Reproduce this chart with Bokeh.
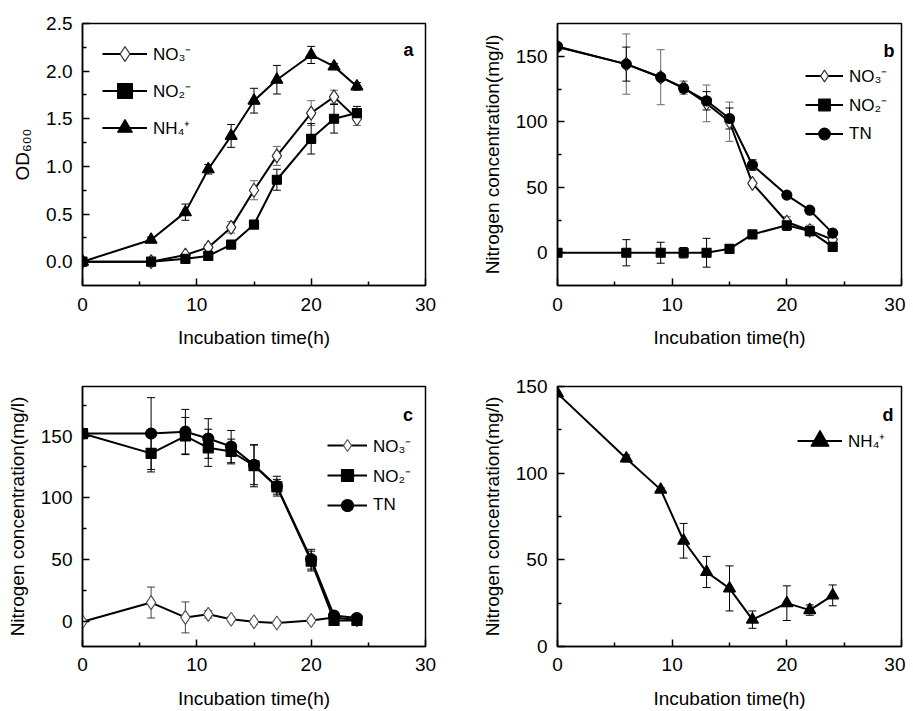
from bokeh.plotting import figure
from bokeh.layouts import column, row
from bokeh.models import (ColumnDataSource, Whisker, TeeHead, Legend, LegendItem,
                          FixedTicker, PrintfTickFormatter, Range1d, Label)
from bokeh.embed import file_html
from bokeh.resources import INLINE

# ---------------- data ----------------
t = [0, 6, 9, 11, 13, 15, 17, 20, 22, 24]

# panel a: OD600
od_no3 = [0.0, 0.0, 0.07, 0.15, 0.36, 0.75, 1.11, 1.56, 1.73, 1.50]
od_no3_err = [0, 0, 0.02, 0.03, 0.06, 0.10, 0.10, 0.13, 0.07, 0.07]
od_no2 = [0.0, 0.0, 0.03, 0.06, 0.18, 0.39, 0.86, 1.29, 1.50, 1.56]
od_no2_err = [0, 0, 0, 0, 0, 0, 0.11, 0.16, 0.15, 0.07]
od_nh4 = [0.0, 0.23, 0.52, 0.97, 1.32, 1.69, 1.91, 2.17, 2.05, 1.84]
od_nh4_err = [0, 0.03, 0.085, 0.05, 0.12, 0.13, 0.15, 0.09, 0.03, 0.04]

# panel b: nitrate medium
b_no3 = [157, 144, 134, 126, 114, 100, 53, 23.5, 17, 10]
b_no3_err = [0, 23, 21, 5, 14, 15, 0, 4, 4, 0]
b_no2 = [0, 0, 0, 0, 0, 3, 14, 21, 16.5, 4.5]
b_no2_err = [0, 10, 8, 4, 11, 0, 0, 4, 3, 0]
b_tn = [157.5, 144, 134, 125.5, 116, 102.5, 67, 44, 32.5, 15]
b_tn_err = [0, 13, 0, 3, 7, 8, 4, 0, 0, 0]

# panel c: nitrite medium
c_no3 = [0, 15.5, 3.5, 6, 2, 0, -1, 1, 3.5, 1.5]
c_no3_err = [0, 12.5, 12.5, 3, 2, 2, 2, 2, 0, 0]
c_no2 = [152, 136, 150, 140.5, 137.5, 126, 109, 49, 1, 1]
c_no2_err = [0, 15, 15, 15, 10, 17, 6, 8, 0, 0]
c_tn = [152, 152, 153.5, 148, 141.5, 126.7, 109.5, 50.5, 5, 3]
c_tn_err = [0, 29, 18, 16, 13, 16, 8, 8, 0, 0]

# panel d: ammonium medium
d_nh4 = [146, 108.5, 90.5, 61, 43, 33.5, 15.5, 25, 21, 29.5]
d_nh4_err = [0, 2, 1, 10, 9, 13, 5, 10, 3, 6]

x_ticks = [0, 10, 20, 30]
x_minor = [5, 15, 25]

FONT = "Liberation Sans"
FS = "19px"
GRAY = "#6a6a6a"


def make_fig(w, h, bl, br, bt, bb, yr, yticks, yminor, ylabel, xstand, xlabstand):
    p = figure(width=w, height=h, output_backend="svg", toolbar_location=None,
               x_range=Range1d(0, 30), y_range=Range1d(*yr),
               min_border_left=bl, min_border_right=br, min_border_top=bt, min_border_bottom=bb)
    p.grid.visible = False
    p.outline_line_color = "black"
    p.outline_line_width = 1.5
    p.background_fill_color = "white"
    p.border_fill_color = "white"
    p.xaxis.ticker = FixedTicker(ticks=x_ticks, minor_ticks=x_minor)
    p.yaxis.ticker = FixedTicker(ticks=yticks, minor_ticks=yminor)
    p.xaxis.axis_label = "Incubation time(h)"
    p.yaxis.axis_label = ylabel
    for ax in (p.xaxis[0], p.yaxis[0]):
        ax.axis_line_width = 1.5
        ax.axis_line_color = "black"
        ax.major_tick_in = 7
        ax.major_tick_out = 0
        ax.minor_tick_in = 4
        ax.minor_tick_out = 0
        ax.major_tick_line_width = 1.5
        ax.minor_tick_line_width = 1.5
        ax.major_label_text_font = FONT
        ax.major_label_text_font_size = FS
        ax.major_label_text_color = "black"
        ax.axis_label_text_font = FONT
        ax.axis_label_text_font_size = FS
        ax.axis_label_text_font_style = "normal"
        ax.axis_label_text_color = "black"
    p.xaxis.major_label_standoff = xstand
    p.xaxis.axis_label_standoff = xlabstand
    p.yaxis.major_label_standoff = 10
    p.yaxis.axis_label_standoff = 10
    return p


def add_err(p, x, y, e, color):
    xs = [xi for xi, ei in zip(x, e) if ei > 0]
    lo = [yi - ei for yi, ei in zip(y, e) if ei > 0]
    hi = [yi + ei for yi, ei in zip(y, e) if ei > 0]
    src = ColumnDataSource(dict(base=xs, lower=lo, upper=hi))
    wk = Whisker(source=src, base="base", lower="lower", upper="upper",
                 line_color=color, line_width=1,
                 upper_head=TeeHead(size=8, line_color=color, line_width=1),
                 lower_head=TeeHead(size=8, line_color=color, line_width=1))
    p.add_layout(wk)


def series(p, x, y, marker, size, fill, lc):
    ln = p.line(x, y, line_color="black", line_width=2)
    sc = p.scatter(x, y, marker=marker, size=size, fill_color=fill, line_color=lc, line_width=1.2)
    return [ln, sc]


def add_legend(p, entries, loc, gw, gh):
    items = [LegendItem(label=lab, renderers=r) for lab, r in entries]
    lg = Legend(items=items, location=loc, glyph_width=gw, glyph_height=gh, label_height=gh,
                padding=0, spacing=0, margin=0, border_line_color=None,
                background_fill_alpha=0, label_text_font=FONT, label_text_font_size="17px",
                label_text_color="black", label_standoff=6)
    p.add_layout(lg)


def add_letter(p, x, y, s):
    p.add_layout(Label(x=x, y=y, text=s, text_align="right", text_baseline="alphabetic",
                       text_font=FONT, text_font_style="bold", text_font_size="18px",
                       text_color="black"))


# ---------------- panel a ----------------
pa = make_fig(463, 350, 82, 38, 23, 65, (-0.25, 2.5),
              [0, 0.5, 1.0, 1.5, 2.0, 2.5], [0.25, 0.75, 1.25, 1.75, 2.25], "OD₆₀₀", 12, 13)
pa.yaxis.formatter = PrintfTickFormatter(format="%.1f")
ra1 = series(pa, t, od_no3, "diamond", 14, "white", "#333333")
ra2 = series(pa, t, od_no2, "square", 9, "black", "black")
ra3 = series(pa, t, od_nh4, "triangle", 12, "black", "black")
add_err(pa, t, od_no3, od_no3_err, GRAY)
add_err(pa, t, od_no2, od_no2_err, "black")
add_err(pa, t, od_nh4, od_nh4_err, "black")
add_legend(pa, [("NO₃⁻", ra1), ("NO₂⁻", ra2), ("NH₄⁺", ra3)], (20, 139), 45, 37)
add_letter(pa, 28.95, 2.22, "a")

# ---------------- panel b ----------------
pb = make_fig(442, 350, 94, 4, 23, 65, (-25, 175),
              [0, 50, 100, 150], [25, 75, 125], "Nitrogen concentration(mg/l)", 12, 13)
rb1 = series(pb, t, b_no3, "diamond", 14, "white", "#333333")
rb2 = series(pb, t, b_no2, "square", 9, "black", "black")
rb3 = series(pb, t, b_tn, "circle", 10, "black", "black")
add_err(pb, t, b_no3, b_no3_err, GRAY)
add_err(pb, t, b_no2, b_no2_err, "black")
add_err(pb, t, b_tn, b_tn_err, "black")
add_legend(pb, [("NO₃⁻", rb1), ("NO₂⁻", rb2), ("TN", rb3)], (248, 137), 38, 29)
add_letter(pb, 29.4, 153.8, "b")

# ---------------- panel c ----------------
pc = make_fig(463, 361, 82, 38, 36, 63, (-20, 190),
              [0, 50, 100, 150], [25, 75, 125, 175], "Nitrogen concentration(mg/l)", 11, 14)
rc1 = series(pc, t, c_no3, "diamond", 14, "white", "#555555")
rc2 = series(pc, t, c_no2, "square", 10, "black", "black")
rc3 = series(pc, t, c_tn, "circle", 11, "black", "black")
add_err(pc, t, c_no3, c_no3_err, "#444444")
add_err(pc, t, c_no2, c_no2_err, "black")
add_err(pc, t, c_tn, c_tn_err, "black")
add_legend(pc, [("NO₃⁻", rc1), ("NO₂⁻", rc2), ("TN", rc3)], (245, 126), 40, 30)
add_letter(pc, 28.9, 167, "c")

# ---------------- panel d ----------------
pd_ = make_fig(442, 361, 94, 4, 36, 63, (0, 150),
               [0, 50, 100, 150], [25, 75, 125], "Nitrogen concentration(mg/l)", 11, 14)
rd1 = series(pd_, t, d_nh4, "triangle", 12, "black", "black")
add_err(pd_, t, d_nh4, d_nh4_err, "black")
add_legend(pd_, [("NH₄⁺", rd1)], (240, 183), 45, 45)
add_letter(pd_, 29.3, 133.4, "d")

layout = column(row(pa, pb), row(pc, pd_))
open("out.html", "w").write(file_html(layout, INLINE))
